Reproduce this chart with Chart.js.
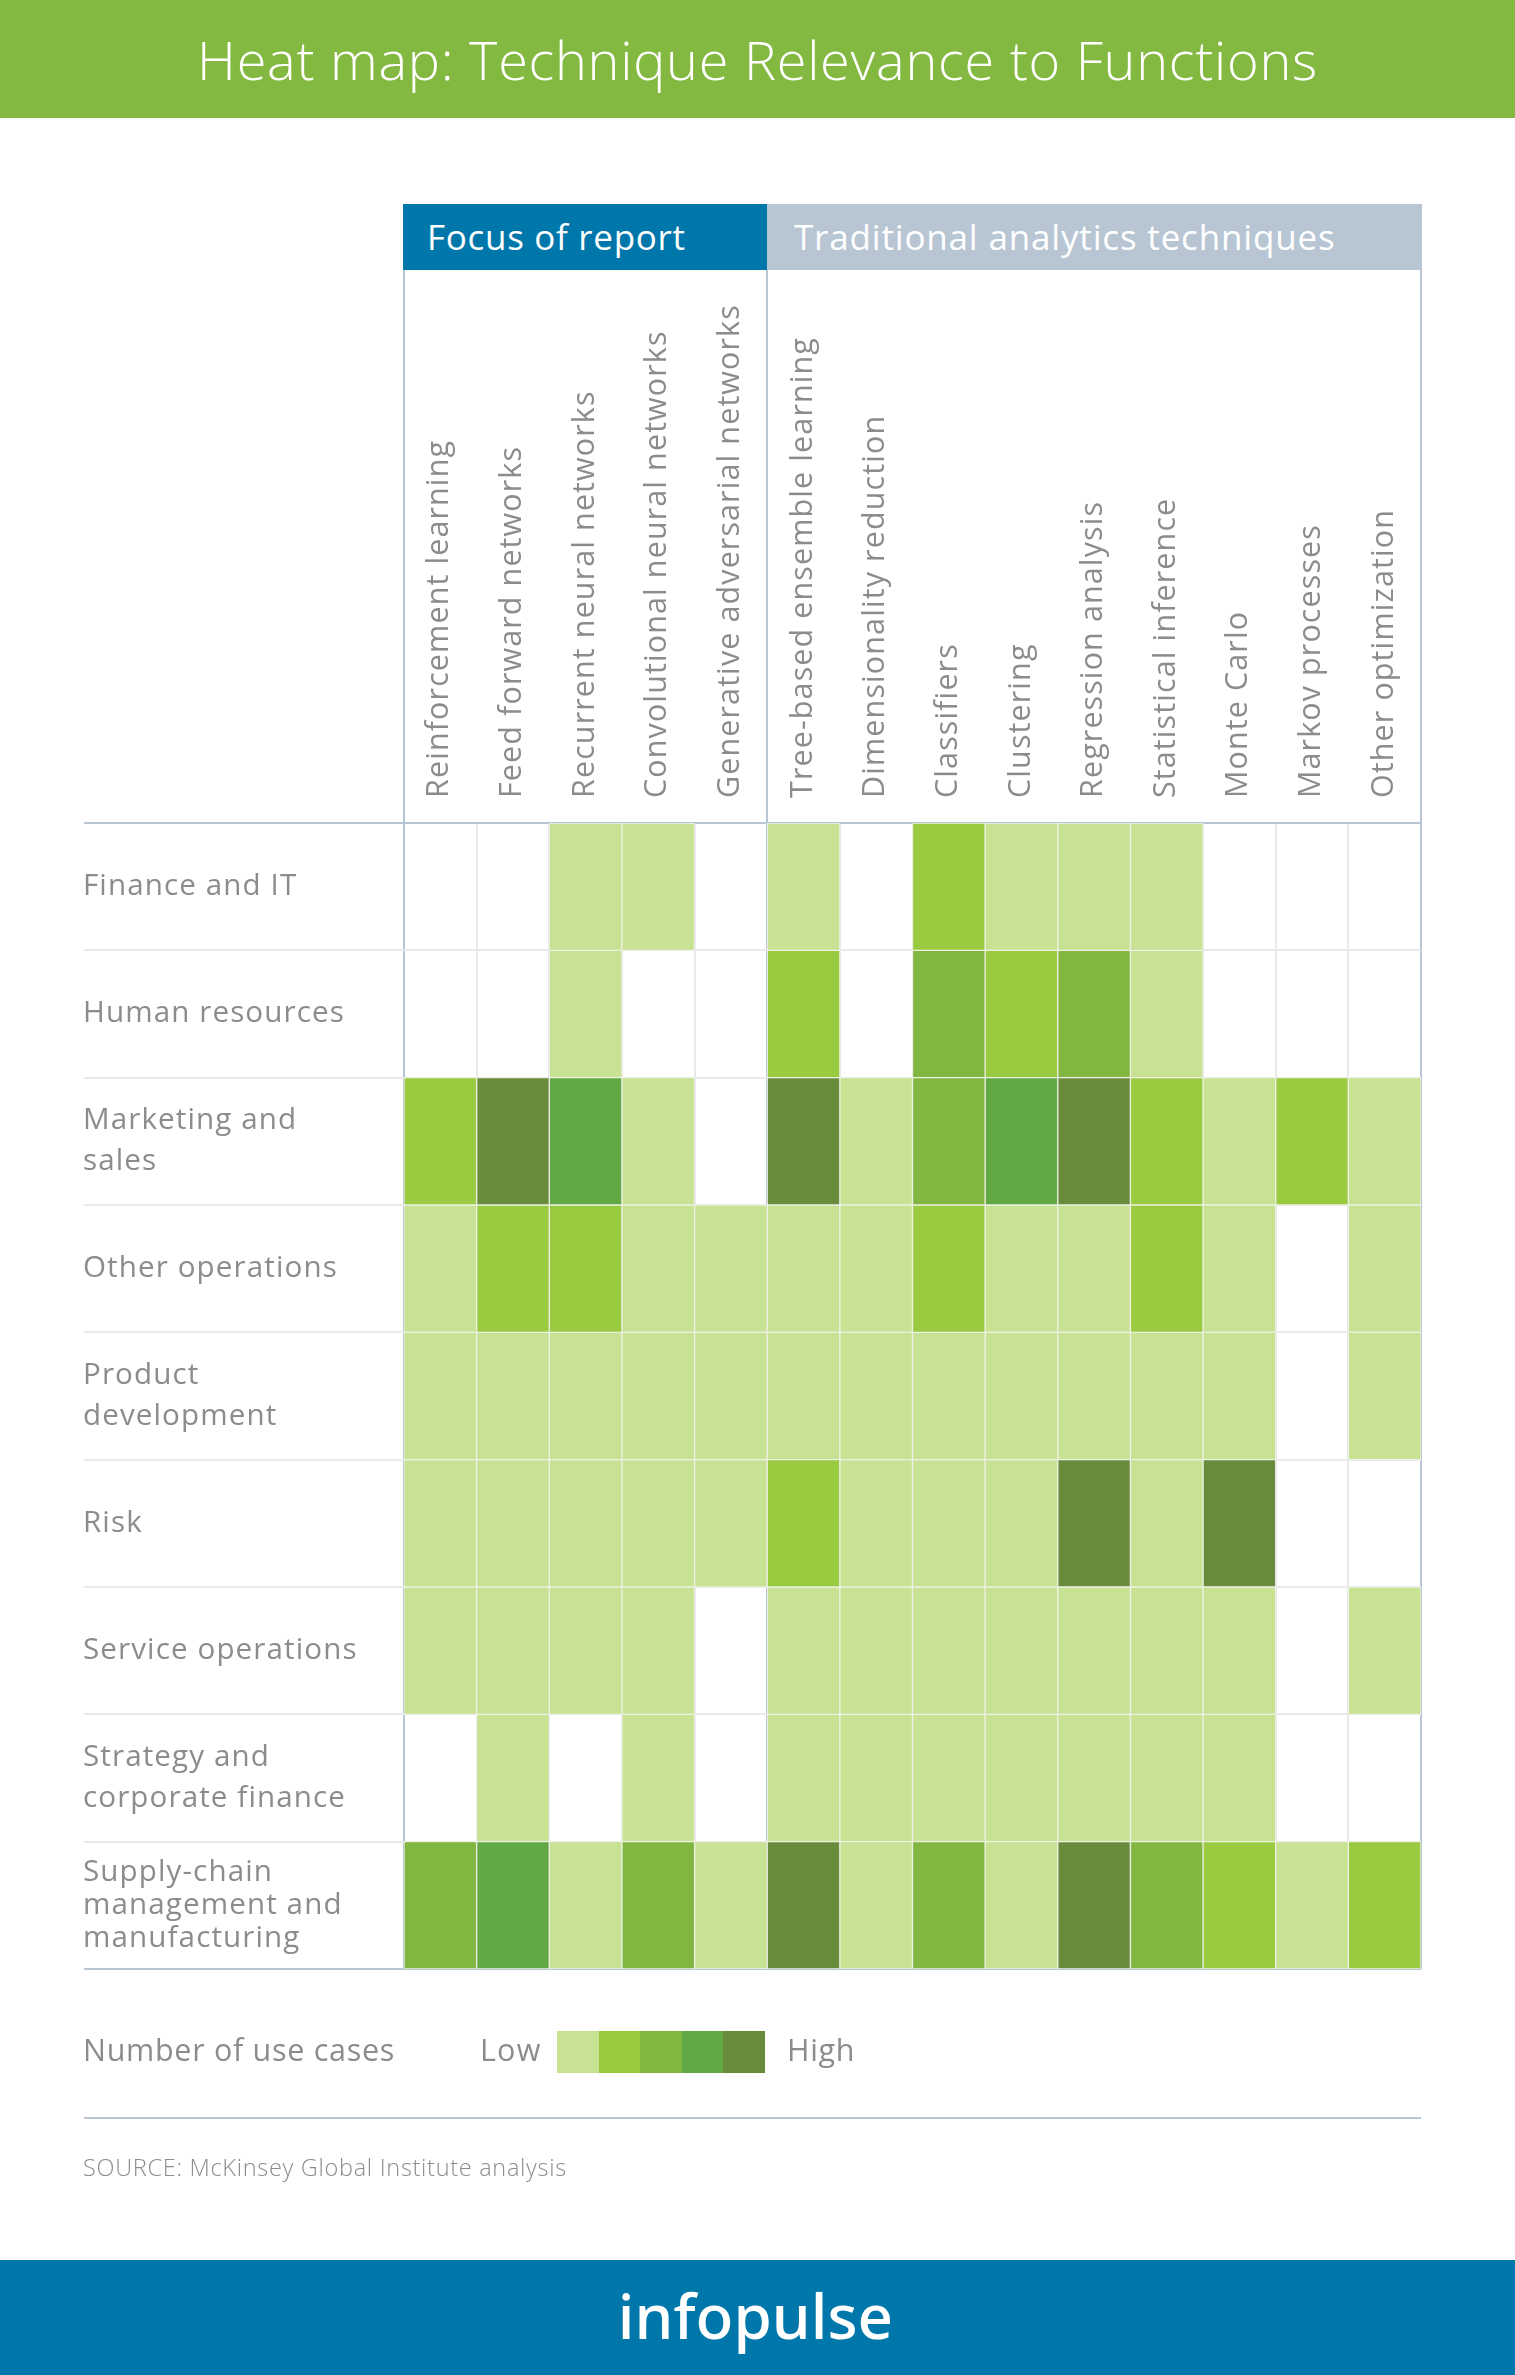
<!DOCTYPE html>
<html>
<head>
<meta charset="utf-8">
<title>Heat map: Technique Relevance to Functions</title>
<script src="https://cdn.jsdelivr.net/npm/chart.js@4"></script>
<style>
  html, body { margin: 0; padding: 0; background: #fff; }
  #page { position: relative; width: 1515px; height: 2375px; overflow: hidden; font-family: "Open Sans", sans-serif; }
  #page div { position: absolute; white-space: nowrap; }
  canvas { position: absolute; left: 0; top: 0; }
  .band { color: #fff; }
  .grey { color: #8a8c8e; }
</style>
</head>
<body>
<div id="page">
  <canvas id="myChart" width="1515" height="2375"></canvas>

  <div class="band" style="left:0;top:0;width:1515px;height:118px;background:#84b941"></div>
  <div class="band" style="left:0;top:0;width:1515px;height:118px;line-height:118px;text-align:center;font-size:54px;font-weight:300;letter-spacing:.75px">Heat map: Technique Relevance to Functions</div>

  <div class="band" style="left:403px;top:204px;width:364px;height:66px;background:#0077ab"></div>
  <div class="band" style="left:427px;top:204px;height:66px;line-height:66px;font-size:35px;font-weight:400;letter-spacing:.7px">Focus of report</div>
  <div class="band" style="left:767px;top:204px;width:655px;height:66px;background:#b8c6d3"></div>
  <div class="band" style="left:794px;top:204px;height:66px;line-height:66px;font-size:35px;font-weight:400;letter-spacing:.83px">Traditional analytics techniques</div>

  <div class="grey" style="left:83px;top:2028px;font-size:30.5px;letter-spacing:.7px">Number of use cases</div>
  <div class="grey" style="left:480px;top:2028px;font-size:30.5px;letter-spacing:1.2px">Low</div>
  <div id="legend"></div>
  <div class="grey" style="left:787px;top:2028px;font-size:30.5px;letter-spacing:.7px">High</div>

  <div style="left:84px;top:2117px;width:1337px;height:2px;background:#b8c6d3"></div>
  <div class="grey" style="left:83px;top:2151px;font-size:23.5px;font-weight:300;letter-spacing:.7px">SOURCE: McKinsey Global Institute analysis</div>

  <div class="band" style="left:0;top:2260px;width:1515px;height:115px;background:#0077ab"></div>
  <div class="band" style="left:-2px;top:2260px;width:1515px;height:110px;line-height:110px;text-align:center;font-size:62px;font-family:'Noto Sans',sans-serif;font-weight:500">infopulse</div>
</div>

<script>
const techniques = [
  'Reinforcement learning', 'Feed forward networks', 'Recurrent neural networks',
  'Convolutional neural networks', 'Generative adversarial networks',
  'Tree-based ensemble learning', 'Dimensionality reduction', 'Classifiers', 'Clustering',
  'Regression analysis', 'Statistical inference', 'Monte Carlo', 'Markov processes', 'Other optimization'
];

const functionLabels = [
  'Finance and IT', 'Human resources', ['Marketing and', 'sales'], 'Other operations',
  ['Product', 'development'], 'Risk', 'Service operations', ['Strategy and', 'corporate finance'],
  ['Supply-chain', 'management and', 'manufacturing']
];

// 0 = no use cases, 1..5 = low..high
const financeIT   = [0, 0, 1, 1, 0, 1, 0, 2, 1, 1, 1, 0, 0, 0];
const humanRes    = [0, 0, 1, 0, 0, 2, 0, 3, 2, 3, 1, 0, 0, 0];
const marketing   = [2, 5, 4, 1, 0, 5, 1, 3, 4, 5, 2, 1, 2, 1];
const otherOps    = [1, 2, 2, 1, 1, 1, 1, 2, 1, 1, 2, 1, 0, 1];
const productDev  = [1, 1, 1, 1, 1, 1, 1, 1, 1, 1, 1, 1, 0, 1];
const risk        = [1, 1, 1, 1, 1, 2, 1, 1, 1, 5, 1, 5, 0, 0];
const serviceOps  = [1, 1, 1, 1, 0, 1, 1, 1, 1, 1, 1, 1, 0, 1];
const strategy    = [0, 1, 0, 1, 0, 1, 1, 1, 1, 1, 1, 1, 0, 0];
const supplyChain = [3, 4, 1, 3, 1, 5, 1, 3, 1, 5, 3, 2, 1, 2];

const rows = [financeIT, humanRes, marketing, otherOps, productDev, risk, serviceOps, strategy, supplyChain];

const palette = ['rgba(0,0,0,0)', '#c8e294', '#9aca3f', '#81b640', '#62a845', '#688c3c'];
const axisBlue = '#b8c6d3';
const lightLine = '#e9e9e9';
const greyText = '#8a8c8e';

// legend swatches
const legend = document.getElementById('legend');
legend.style.cssText = 'left:557px;top:2031px;width:208px;height:42px;display:flex';
palette.slice(1).forEach(c => {
  const s = document.createElement('span');
  s.style.cssText = 'flex:1;background:' + c;
  legend.appendChild(s);
});

// chart.js has no letter spacing option, set it on the context before it draws
const spacing = {
  id: 'spacing',
  beforeDraw(chart) { chart.ctx.letterSpacing = '1.1px'; },
  afterDraw(chart) { chart.ctx.letterSpacing = '0px'; }
};

// the closing grid line of an offset scale has no tick, so its index is undefined
const isBlueColumn = c => c.index === undefined || c.index === 0 || c.index === 5;
const isBlueRow = c => c.index === undefined || c.index === 0;

const ctx = document.getElementById('myChart').getContext('2d');
new Chart(ctx, {
  type: 'bar',
  plugins: [spacing],
  data: {
    labels: techniques,
    datasets: rows.map((row, r) => ({
      label: functionLabels[r],
      yAxisID: 'y',
      data: row.map(() => [r, r + 1]),
      backgroundColor: row.map(v => palette[v]),
      borderColor: row.map(v => v ? '#eef1e6' : 'rgba(0,0,0,0)'),
      borderWidth: 1,
      borderSkipped: false,
      grouped: false,
      barPercentage: 1,
      categoryPercentage: 1
    }))
  },
  options: {
    responsive: false,
    animation: false,
    layout: { padding: { left: 83, right: 94, top: 270, bottom: 406 } },
    plugins: { legend: { display: false }, tooltip: { enabled: false } },
    scales: {
      x: {
        position: 'top',
        offset: true,
        afterFit(s) { s.height = 553; },
        border: { display: false },
        grid: {
          offset: true,
          tickLength: 553,
          lineWidth: 2,
          color: c => isBlueColumn(c) ? axisBlue : lightLine,
          tickColor: c => isBlueColumn(c) ? axisBlue : 'rgba(0,0,0,0)'
        },
        ticks: {
          autoSkip: false,
          minRotation: 90,
          maxRotation: 90,
          padding: -528,
          labelOffset: 36,
          color: greyText,
          font: { family: 'Open Sans', size: 30.5, weight: 400 }
        }
      },
      y: {
        display: false,
        min: 0,
        max: 9,
        reverse: true
      },
      y2: {
        type: 'category',
        labels: functionLabels,
        position: 'left',
        offset: true,
        afterFit(s) { s.width = 321; },
        border: { display: false },
        grid: {
          offset: true,
          tickLength: 320,
          lineWidth: 2,
          color: c => isBlueRow(c) ? axisBlue : lightLine,
          tickColor: c => isBlueRow(c) ? axisBlue : lightLine
        },
        ticks: {
          crossAlign: 'far',
          autoSkip: false,
          padding: 0,
          color: greyText,
          font: c => ({ family: 'Open Sans', size: 29.6, weight: 400, lineHeight: c.index === 8 ? 1.11 : 1.38 })
        }
      }
    }
  }
});
</script>
</body>
</html>
